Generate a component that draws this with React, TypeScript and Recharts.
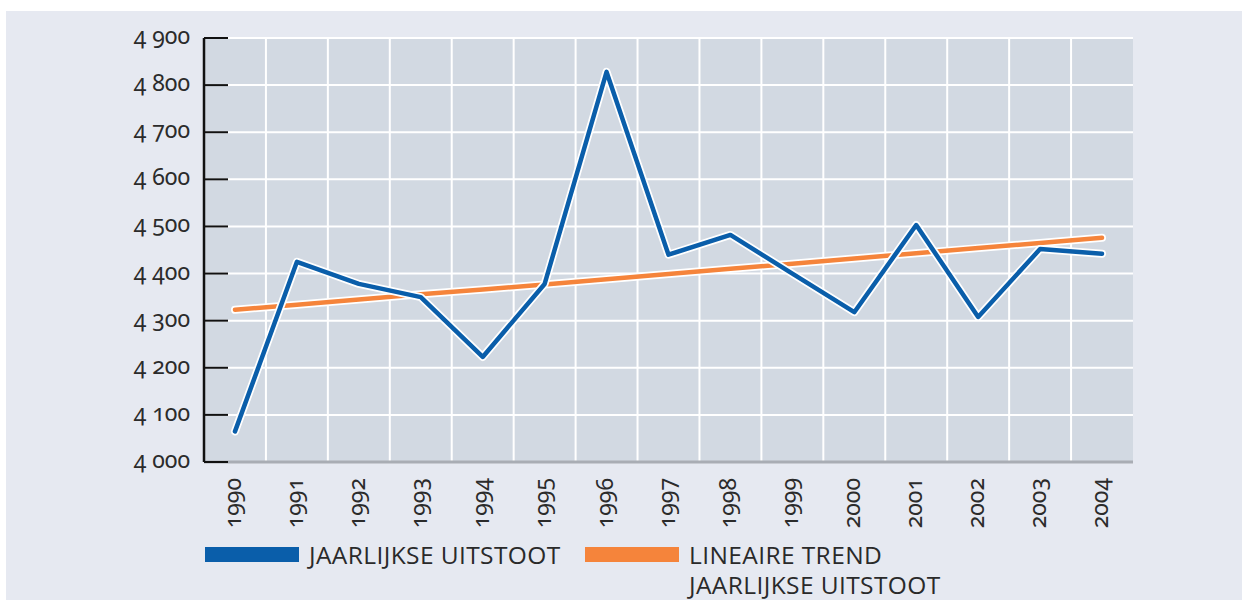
import { LineChart, Line, XAxis, YAxis, CartesianGrid } from 'recharts';

const years = ['1990', '1991', '1992', '1993', '1994', '1995', '1996', '1997', '1998', '1999', '2000', '2001', '2002', '2003', '2004'];
const emissions = [4065, 4425, 4378, 4350, 4223, 4378, 4828, 4440, 4482, 4400, 4318, 4503, 4308, 4452, 4442];
const trend = [4323, 4334, 4345, 4356, 4366, 4377, 4388, 4399, 4410, 4421, 4432, 4443, 4454, 4465, 4476];
const yTicks = [4000, 4100, 4200, 4300, 4400, 4500, 4600, 4700, 4800, 4900];

const BLUE = '#0a5eaa';
const ORANGE = '#f5843b';
const FONT = '"Noto Sans", "Open Sans", sans-serif';
const numStyle = { fontFamily: FONT, fontVariantNumeric: 'oldstyle-nums', fontFeatureSettings: '"onum"' } as any;

const data = years.map((year, i) => ({ year, emissions: emissions[i], trend: trend[i] }));

const fmt = (v: number) => String(v).replace(/^(\d)(\d{3})$/, '$1 $2');

const YTick = ({ x, y, payload }: any) => (
  <g>
    <line x1={x} y1={y} x2={x + 24} y2={y} stroke="#111" strokeWidth={2} />
    <text x={x - 14} y={y} dy={6} textAnchor="end" fontSize={23} fill="#2b2b2b" style={numStyle}>
      {fmt(payload.value)}
    </text>
  </g>
);

const XTick = ({ x, y, payload }: any) => (
  <text x={x} y={y + 8} transform={`rotate(-90 ${x} ${y + 8})`} textAnchor="end" dy={6}
    fontSize={23} fill="#2b2b2b" style={numStyle}>
    {payload.value}
  </text>
);

const LegendItem = ({ color, lines, left }: { color: string; lines: string[]; left: number }) => (
  <div style={{ position: 'absolute', left, top: 529, display: 'flex' }}>
    <div style={{ width: 94, height: 15, background: color, marginTop: 7 }} />
    <div style={{ marginLeft: 10, fontFamily: '"Open Sans", sans-serif', fontSize: 24.5, letterSpacing: 0.4, lineHeight: '30px', color: '#2a2a2a' }}>
      {lines.map((l) => <div key={l}>{l}</div>)}
    </div>
  </div>
);

export default function App() {
  return (
    <div style={{ position: 'absolute', left: 6, top: 11, width: 1236, height: 589, background: '#e6e9f1' }}>
      <LineChart width={1236} height={540} data={data} margin={{ top: 27, right: 109, left: 98, bottom: 19 }}>
        <CartesianGrid
          fill="#d2d9e2"
          stroke="#ffffff"
          strokeWidth={2}
          strokeOpacity={1}
          verticalCoordinatesGenerator={({ offset }: any) =>
            years.slice(1).map((_, i) => offset.left + ((i + 1) * offset.width) / years.length)
          }
        />
        <XAxis dataKey="year" height={70} padding={{ left: 31, right: 31 }} tickLine={false}
          axisLine={{ stroke: '#a9adb4', strokeWidth: 3 }} tick={<XTick />} interval={0} />
        <XAxis xAxisId="top" orientation="top" dataKey="year" height={0} tick={false} tickLine={false}
          axisLine={{ stroke: '#a9adb4', strokeWidth: 3 }} />
        <YAxis domain={[4000, 4900]} ticks={yTicks} width={100} tickLine={false} tickSize={0} tickMargin={0}
          axisLine={{ stroke: '#111', strokeWidth: 2.5 }} tick={<YTick />} interval={0} />
        <YAxis yAxisId="right" orientation="right" domain={[4000, 4900]} width={0} tick={false} tickLine={false}
          axisLine={{ stroke: '#a9adb4', strokeWidth: 3 }} />
        <Line dataKey="trend" stroke="#ffffff" strokeWidth={8} dot={false} isAnimationActive={false} strokeLinecap="round" />
        <Line dataKey="trend" stroke={ORANGE} strokeWidth={4.5} dot={false} isAnimationActive={false} strokeLinecap="round" />
        <Line dataKey="emissions" stroke="#ffffff" strokeWidth={8} dot={false} isAnimationActive={false} strokeLinecap="round" strokeLinejoin="round" />
        <Line dataKey="emissions" stroke={BLUE} strokeWidth={4.5} dot={false} isAnimationActive={false} strokeLinecap="round" strokeLinejoin="round" />
      </LineChart>
      <LegendItem color={BLUE} lines={['JAARLIJKSE UITSTOOT']} left={199} />
      <LegendItem color={ORANGE} lines={['LINEAIRE TREND', 'JAARLIJKSE UITSTOOT']} left={579} />
    </div>
  );
}
